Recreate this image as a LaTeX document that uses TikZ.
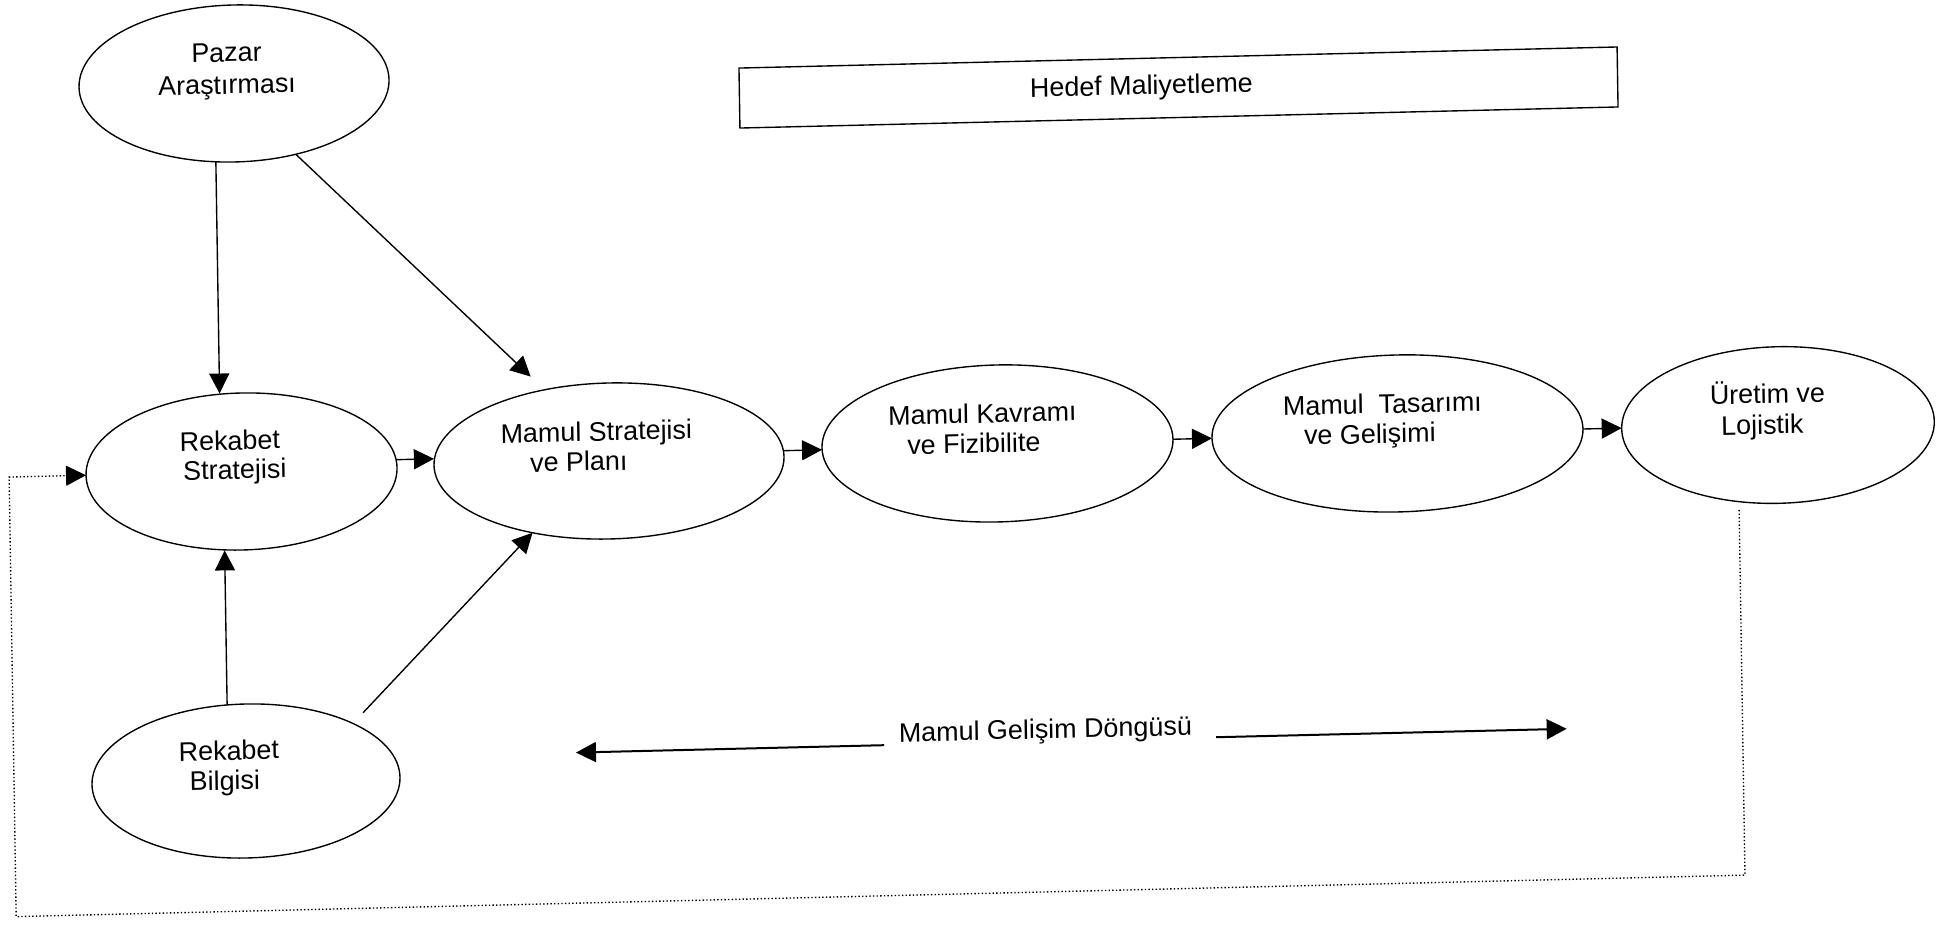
\documentclass[tikz,border=0pt]{standalone}
\usepackage{fontspec}
\setmainfont{Liberation Sans}
\usetikzlibrary{arrows.meta,shapes.geometric}
\newcommand{\pxu}{0.4pt}
\begin{document}
\begin{tikzpicture}[x=0.4pt,y=-0.4pt,
  every node/.style={inner sep=0pt,outer sep=0pt},
  lbl/.style={anchor=base,font=\fontsize{10.76}{12.9}\selectfont},
  oval/.style={draw,ellipse,line width=0.55pt},
  tip/.style={-{Triangle[length=8pt,width=8pt]}},
  arr/.style={tip,line width=0.55pt},
  bigarr/.style={tip,line width=0.8pt},
  loopline/.style={tip,line width=0.55pt,dash pattern=on 0.55pt off 0.9pt}
]
\fill[white] (0,0) rectangle (1945,925);
\useasboundingbox (0,0) rectangle (1945,925);
\begin{scope}[yslant=0.024,xslant=-0.016,transform shape]
  % ovals
  \node[oval,minimum width=310*\pxu,minimum height=157*\pxu] (ps) at (232.6,89.1) {};
  \node[oval,minimum width=311*\pxu,minimum height=157*\pxu] (rs) at (233.9,477.3) {};
  \node[oval,minimum width=308*\pxu,minimum height=154*\pxu] (rb) at (233.4,786.9) {};
  \node[oval,minimum width=350*\pxu,minimum height=156*\pxu] (ms) at (601.4,475.6) {};
  \node[oval,minimum width=351*\pxu,minimum height=157*\pxu] (mk) at (990,467.4) {};
  \node[oval,minimum width=371*\pxu,minimum height=157*\pxu] (mt) at (1390,467) {};
  \node[oval,minimum width=312.6*\pxu,minimum height=156.6*\pxu] (mu) at (1770.5,467.7) {};
  % oval texts
  \node[lbl] (ps1) at (225.6,67.1) {Pazar};
  \node[lbl] (ps2) at (225.6,99.4) {Araştırması};
  \node[lbl] (rs1) at (222.7,455.5) {Rekabet};
  \node[lbl] (rs2) at (227.2,484.6) {Stratejisi};
  \node[lbl] (rb1) at (216.8,765.5) {Rekabet};
  \node[lbl] (rb2) at (212.3,795.4) {Bilgisi};
  \node[lbl] (ms1) at (589.2,455.3) {Mamul Stratejisi};
  \node[lbl] (ms2) at (571.2,484.9) {ve Planı};
  \node[lbl] (mk1) at (975.4,446.6) {Mamul Kavramı};
  \node[lbl] (mk2) at (966.4,476.4) {ve Fizibilite};
  \node[lbl] (mt1) at (1375.4,446.5) {Mamul\ \ Tasarımı};
  \node[lbl] (mt2) at (1362.4,476.2) {ve Gelişimi};
  \node[lbl] (mu1) at (1760.4,445.7) {Üretim ve};
  \node[lbl] (mu2) at (1754.9,476.6) {Lojistik};
  % target costing bar
  \node[draw,line width=0.55pt,minimum width=878.1*\pxu,minimum height=60*\pxu] (hm) at (1176.65,115.8) {};
  \node[lbl] (hmt) at (1139.6,122) {Hedef Maliyetleme};
  % development cycle label and its arrows
  \node[lbl] (dg) at (1033.3,763.6) {Mamul Gelişim Döngüsü};
  \coordinate (dgl) at (563.7,766.4);
  \coordinate (dgr) at (1554.4,766.4);
  \draw[bigarr] ([shift={(-15,2.8)}]dg.base west) -- (dgl);
  \draw[bigarr] ([shift={(24,2.8)}]dg.base east) -- (dgr);
  % connectors
  \draw[arr] (ps.256.8) -- (ps.256.8 |- rs.north);
  \draw[arr] (rb.103.6) -- (rb.103.6 |- rs.south);
  \draw[arr,shorten >=7.7pt] (ps.310.1) -- (ms.131.7);
  \draw[arr,shorten <=5.9pt] (rb.27.9) -- (ms.222.2);
  \draw[arr] (rs.3.1) -- (rs.3.1 -| ms.west);
  \draw[arr] (ms.2.9) -- (ms.2.9 -| mk.west);
  \draw[arr] (mk.east) -- (mk.east -| mt.west);
  \draw[arr] (mt.east) -- (mt.east -| mu.west);
  % feedback loop
  \coordinate (lpc) at (1.5,917);
  \draw[loopline] ([shift={(0,8.3)}]mu.242.2) |- (lpc) |- (rs.west);
\end{scope}
\end{tikzpicture}
\end{document}
